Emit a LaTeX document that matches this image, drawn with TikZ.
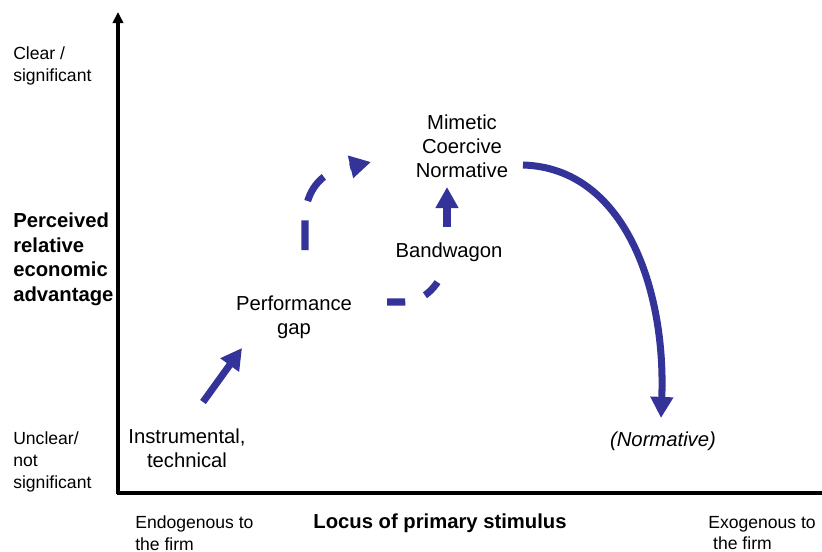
\documentclass[tikz,border=0pt]{standalone}
\usepackage{fontspec}
\setmainfont{Liberation Sans}
\usetikzlibrary{arrows.meta}
\definecolor{arrowblue}{RGB}{51,51,153}

\begin{document}
\begin{tikzpicture}[x=0.025cm,y=-0.025cm,
  lbl/.style={inner sep=0pt,align=center,font=\fontsize{14.4}{17.2}\selectfont},
  axlbl/.style={inner sep=0pt,align=left,anchor=west,font=\fontsize{12.5}{15.4}\selectfont},
  flow/.style={-{Triangle[width=15.5pt,length=15pt]},line width=5pt,arrowblue}]
\useasboundingbox (0,0) rectangle (822,552);

% axes
\coordinate (v1) at (118,494);
\coordinate (v2) at (118,12);
\coordinate (v3) at (822,493);
\draw [-{Triangle[width=7.5pt,length=8pt]},line width=2.2pt] (v1) -- (v2);
\draw [line width=2.2pt] (117,493) -- (v3);

\node [axlbl] at (13,66) {Clear /\\significant};
\node [axlbl,font=\fontsize{14.4}{17.4}\selectfont\bfseries] at (13,259.5) {Perceived\\relative\\economic\\advantage};
\node [axlbl] at (13,462) {Unclear/\\not\\significant};
\node [axlbl] at (135,533) {Endogenous to\\the firm};
\node [lbl,font=\fontsize{14.4}{17.2}\selectfont\bfseries] at (440,523) {Locus of primary stimulus};
\node [axlbl] at (708,533) {Exogenous to\\\ the firm};

\node [lbl] (v4) at (187,448) {Instrumental,\\technical};
\node [lbl] (v5) at (294,317) {Performance\\gap};
\node [lbl] (v6) at (449,252) {Bandwagon};
\node [lbl] (v7) at (462,146) {Mimetic\\Coercive\\Normative};
\node [lbl,font=\fontsize{14.4}{17.2}\selectfont\itshape] (v8) at (663,441) {(Normative)};

\coordinate (v9) at (203,402);
\coordinate (v10) at (242,348);
\draw [flow] (v9) -- (v10);

% dashed loop up to the mimetic group
\coordinate (v11) at (305,250);
\coordinate (v12) at (336,170);
\coordinate (v13) at (350,167);
\coordinate (v14) at (371,162);
\draw [line width=5pt,arrowblue,dash pattern=on 21pt off 14pt] (v11) -- (305,220) .. controls (305,194) and (318,177) .. (v12);
\draw [flow] (v13) -- (v14);

\coordinate (v15) at (387,302);
\coordinate (v16) at (446,265);
\draw [line width=5pt,arrowblue,dash pattern=on 13pt off 15pt] (v15) -- (405,302) .. controls (422,302) and (438,288) .. (v16);

\coordinate (v17) at (447,227);
\coordinate (v18) at (447,187);
\draw [flow] (v17) -- (v18);

\coordinate (v19) at (523,165);
\coordinate (v20) at (661,418);
\draw [flow] (v19) .. controls (625,168) and (666,290) .. (v20);
\end{tikzpicture}
\end{document}
